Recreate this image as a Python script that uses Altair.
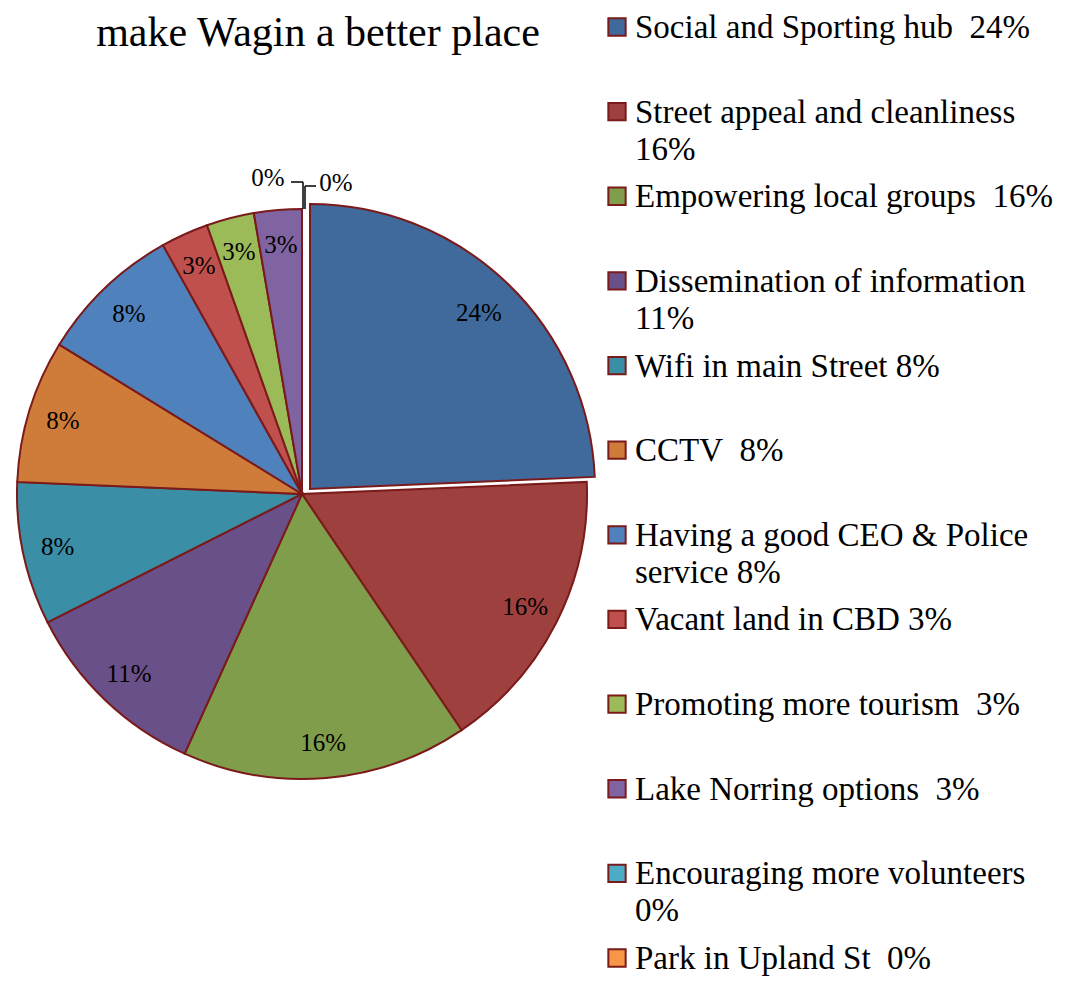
import altair as alt
import pandas as pd

# ---- data ----
categories = [
    "Social and Sporting hub", "Street appeal and cleanliness", "Empowering local groups",
    "Dissemination of information", "Wifi in main Street", "CCTV",
    "Having a good CEO & Police service", "Vacant land in CBD", "Promoting more tourism",
    "Lake Norring options", "Encouraging more volunteers", "Park in Upland St",
]
shares = [24.3, 16.2, 16.2, 10.8, 8.1, 8.1, 8.1, 2.7, 2.7, 2.7, 0.0, 0.0]
pct_labels = ["24%", "16%", "16%", "11%", "8%", "8%", "8%", "3%", "3%", "3%", "0%", "0%"]
legend_lines = [
    "Social and Sporting hub\u00a0 24%",
    "Street appeal and cleanliness\n16%",
    "Empowering local groups\u00a0 16%",
    "Dissemination of information\n11%",
    "Wifi in main Street 8%",
    "CCTV\u00a0 8%",
    "Having a good CEO & Police\nservice 8%",
    "Vacant land in CBD 3%",
    "Promoting more tourism\u00a0 3%",
    "Lake Norring options\u00a0 3%",
    "Encouraging more volunteers\n0%",
    "Park in Upland St\u00a0 0%",
]
colors = ["#3F6A9B", "#9E413E", "#7F9D4A", "#6A5088", "#3A8EA6", "#CF7C3A",
          "#4F81BD", "#C0504D", "#9BBB59", "#8064A2", "#4BACC6", "#F79646"]
title_text = "make Wagin a better place"

df = pd.DataFrame({
    "idx": list(range(len(categories))),
    "cat": categories,
    "share": shares,
    "lbl": pct_labels,
    "legend": legend_lines,
})

# ---- layout constants ----
W, H = 1064, 968
CX, CY, R = 294, 486, 285
EX, EY = 8, -5          # explode offset of first slice
LBL_R = 250
SERIF = "Liberation Serif"
EDGE = "#7B1A1A"
LFS = 25

color_scale = alt.Scale(domain=categories, range=colors)
base = alt.Chart(df)

theta = alt.Theta("share:Q", stack=True)
order = alt.Order("idx:Q")
col = alt.Color("cat:N", scale=color_scale, legend=None)

main_arcs = base.mark_arc(stroke=EDGE, strokeWidth=2, radius=R).encode(
    theta=theta, order=order, color=col,
    x=alt.value(CX), y=alt.value(CY),
    opacity=alt.condition("datum.idx == 0", alt.value(0), alt.value(1)),
)
expl_arc = base.mark_arc(stroke=EDGE, strokeWidth=2, radius=R).encode(
    theta=theta, order=order, color=col,
    x=alt.value(CX + EX), y=alt.value(CY + EY),
    opacity=alt.condition("datum.idx == 0", alt.value(1), alt.value(0)),
)

main_txt = base.mark_text(font=SERIF, fontSize=LFS, color="black",
                          align="center", baseline="middle").encode(
    theta=theta, order=order,
    radius=alt.value(LBL_R),
    x=alt.value(CX), y=alt.value(CY),
    text=alt.condition("datum.idx > 0 && datum.share > 0", "lbl:N", alt.value("")),
)
expl_txt = base.mark_text(font=SERIF, fontSize=LFS, color="black",
                          align="center", baseline="middle").encode(
    theta=theta, order=order,
    radius=alt.value(LBL_R - 6),
    x=alt.value(CX + EX), y=alt.value(CY + EY),
    text=alt.condition("datum.idx == 0", "lbl:N", alt.value("")),
)
zero_left = base.mark_text(font=SERIF, fontSize=LFS, color="black",
                           align="center", baseline="middle", dx=-34).encode(
    theta=theta, order=order,
    radius=alt.value(316),
    x=alt.value(CX), y=alt.value(CY),
    text=alt.condition("datum.idx == 10", "lbl:N", alt.value("")),
)
zero_right = base.mark_text(font=SERIF, fontSize=LFS, color="black",
                            align="center", baseline="middle", dx=34).encode(
    theta=theta, order=order,
    radius=alt.value(311),
    x=alt.value(CX), y=alt.value(CY),
    text=alt.condition("datum.idx == 11", "lbl:N", alt.value("")),
)

top = CY - R
leader_df = pd.DataFrame({"k": [0]})
lb = alt.Chart(leader_df)
leaders = [
    lb.mark_rule(color="black", strokeWidth=1.5).encode(
        x=alt.value(CX - 11), x2=alt.value(CX + 1), y=alt.value(top - 27), y2=alt.value(top - 27)),
    lb.mark_rule(color="black", strokeWidth=1.5).encode(
        x=alt.value(CX + 1), x2=alt.value(CX + 1), y=alt.value(top - 27), y2=alt.value(top)),
    lb.mark_rule(color="black", strokeWidth=1.5).encode(
        x=alt.value(CX + 3), x2=alt.value(CX + 14), y=alt.value(top - 23), y2=alt.value(top - 23)),
    lb.mark_rule(color="black", strokeWidth=1.5).encode(
        x=alt.value(CX + 3), x2=alt.value(CX + 3), y=alt.value(top - 23), y2=alt.value(top)),
]

ypos = alt.Y("cat:N", scale=alt.Scale(type="point", domain=categories, range=[19, 950], padding=0),
             axis=None)
leg_sq = base.mark_square(size=300, stroke=EDGE, strokeWidth=2, opacity=1).encode(
    x=alt.value(609), y=ypos, color=col,
)
leg_txt = base.mark_text(font=SERIF, fontSize=33, color="black", align="left",
                         baseline="alphabetic", dy=11, lineBreak="\n", lineHeight=37).encode(
    x=alt.value(627), y=ypos, text="legend:N",
)

title = lb.mark_text(font=SERIF, fontSize=42, color="black", align="center",
                     baseline="alphabetic").encode(
    x=alt.value(310), y=alt.value(38), text=alt.value(title_text),
)

chart = alt.layer(main_arcs, expl_arc, main_txt, expl_txt, zero_left, zero_right,
                  *leaders, leg_sq, leg_txt, title).properties(
    width=W, height=H, padding=0, autosize=alt.AutoSizeParams(type="none"),
).configure_view(stroke=None)

chart.save("out.html", embed_options={"renderer": "svg", "actions": False})
